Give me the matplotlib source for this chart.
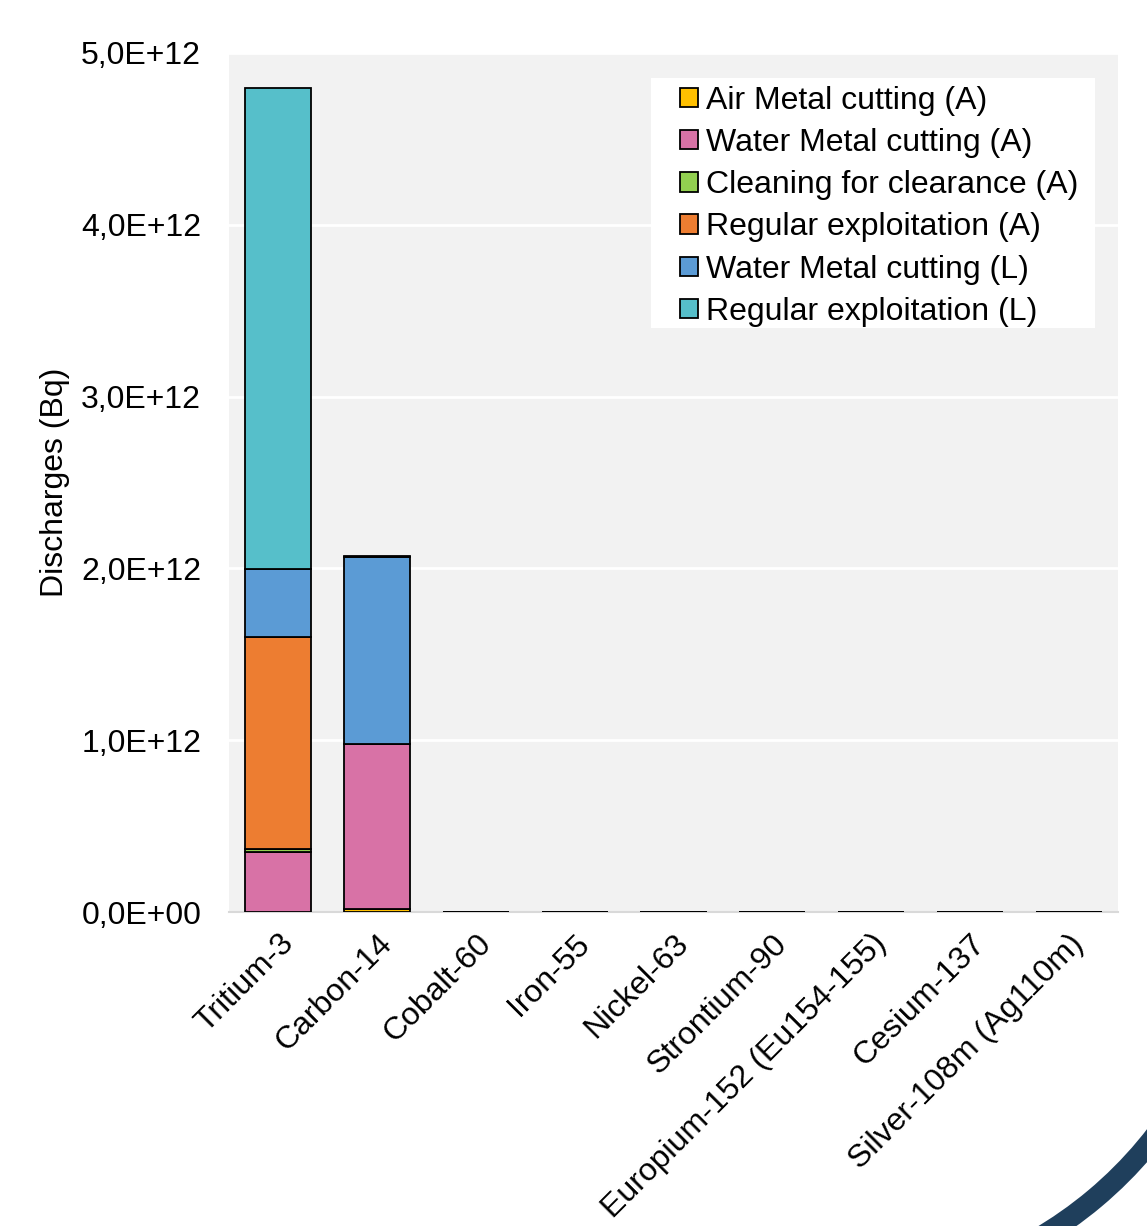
import matplotlib
matplotlib.use("Agg")
import matplotlib.pyplot as plt
from matplotlib.patches import Wedge, Rectangle
from matplotlib.ticker import FuncFormatter
import numpy as np

plt.rcParams['font.family'] = ['Liberation Sans', 'DejaVu Sans']

# radionuclides
categories = ['Tritium-3', 'Carbon-14', 'Cobalt-60', 'Iron-55', 'Nickel-63',
              'Strontium-90', 'Europium-152 (Eu154-155)', 'Cesium-137',
              'Silver-108m (Ag110m)']

# discharges in Bq
air_metal_A = [0, 1.5e10, 1e8, 0, 0, 0, 1e8, 1e8, 1e8]
water_metal_A = [3.51e11, 9.63e11, 1e9, 5e8, 5e8, 2e8, 5e8, 5e8, 5e8]
cleaning_A = [1.4e10, 0, 5e8, 5e8, 5e8, 1e8, 2e8, 2e8, 2e8]
regular_A = [1.234e12, 0, 2e8, 2e8, 2e8, 1e8, 1e8, 1e8, 1e8]
water_metal_L = [3.98e11, 1.09e12, 5e8, 5e8, 5e8, 2e8, 5e8, 5e8, 5e8]
regular_L = [2.80e12, 4e9, 5e8, 2e8, 2e8, 2e8, 2e8, 2e8, 2e8]

series = [
    ('Air Metal cutting (A)', air_metal_A, '#FFC000'),
    ('Water Metal cutting (A)', water_metal_A, '#D872A6'),
    ('Cleaning for clearance (A)', cleaning_A, '#92D050'),
    ('Regular exploitation (A)', regular_A, '#ED7D31'),
    ('Water Metal cutting (L)', water_metal_L, '#5B9BD5'),
    ('Regular exploitation (L)', regular_L, '#56BFCA'),
]

FS = 23
W, H = 1147, 1226
fig = plt.figure(figsize=(W / 100, H / 100), dpi=100)
ax = fig.add_axes([229 / W, 1 - 912 / H, 889 / W, 859 / H])
ax.set_facecolor('#F2F2F2')

x = np.arange(len(categories))
bottom = np.zeros(len(categories))
for name, vals, col in series:
    vals = np.array(vals)
    ax.bar(x, vals, 0.67, bottom=bottom, color=col, edgecolor='black',
           linewidth=1.3, label=name, zorder=3)
    bottom += vals

ax.set_xlim(-0.5, len(categories) - 0.5)
ax.set_ylim(0, 5e12)
ax.set_yticks(np.arange(0, 5.01e12, 1e12))
ax.yaxis.set_major_formatter(FuncFormatter(
    lambda v, p: ('%.1E' % v).replace('.', ',')))
ax.grid(axis='y', color='white', linewidth=2, zorder=1)
ax.set_axisbelow(True)
for s in ['top', 'right', 'left']:
    ax.spines[s].set_visible(False)
ax.spines['bottom'].set_color('#D9D9D9')
ax.spines['bottom'].set_linewidth(1.5)
ax.tick_params(axis='y', length=0, pad=20, labelsize=FS)
ax.tick_params(axis='x', length=0, pad=12, labelsize=FS)
ax.set_xticks(x)
ax.set_xticklabels(categories, rotation=45, ha='right', rotation_mode='anchor')
ax.set_ylabel('Discharges (Bq)', fontsize=FS, labelpad=8)

# white legend panel
ax.add_patch(Rectangle((0.4747, 0.6799), 0.4994, 0.2910, transform=ax.transAxes,
                       facecolor='white', edgecolor='none', zorder=4))
leg = ax.legend(loc='upper left', bbox_to_anchor=(0.5073, 0.9616),
                borderaxespad=0, borderpad=0, fontsize=FS, frameon=False,
                handlelength=0.55, handleheight=0.55, handletextpad=0.25,
                labelspacing=0.38)
leg.set_zorder(5)
for h in leg.legend_handles:
    h.set_linewidth(1.3)

# decorative arc in the lower right corner
deco = fig.add_axes([0, 0, 1, 1], zorder=-1)
deco.set_xlim(0, W)
deco.set_ylim(H, 0)
deco.axis('off')
deco.add_patch(Wedge((831, 884), 421, 30, 70, width=21, facecolor='#1F3F5C',
                     edgecolor='none'))

fig.savefig('out.png', dpi=100)
